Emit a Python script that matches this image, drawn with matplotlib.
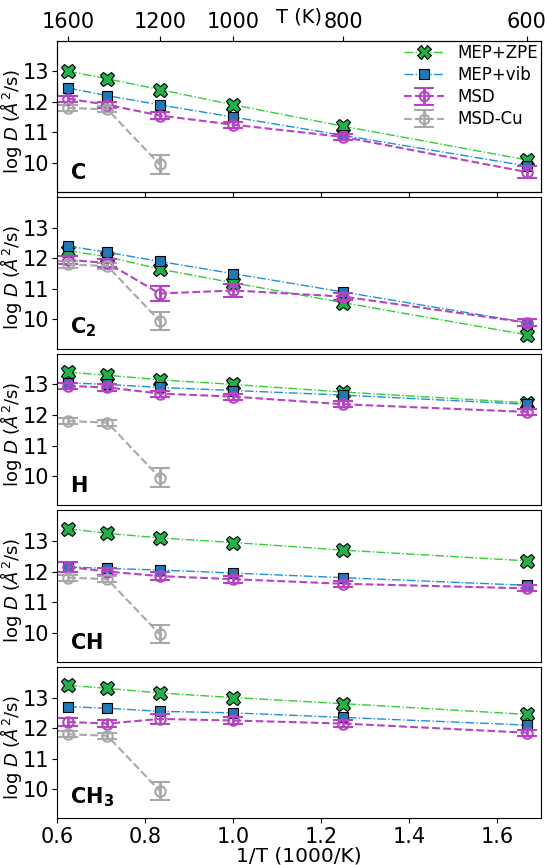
import numpy as np
import matplotlib
matplotlib.use("Agg")
import matplotlib.pyplot as plt

inv_T = [0.625, 0.714, 0.833, 1.0, 1.25, 1.667]
inv_T_cu = [0.625, 0.714, 0.833]
species = ["C", "C2", "H", "CH", "CH3"]
panel_labels = [r"$\mathbf{C}$", r"$\mathbf{C_2}$", r"$\mathbf{H}$",
                r"$\mathbf{CH}$", r"$\mathbf{CH_3}$"]

# log D values per species
mep_zpe = {
    "C":   [13.0, 12.75, 12.4, 11.9, 11.2, 10.1],
    "C2":  [12.25, 12.05, 11.65, 11.2, 10.55, 9.5],
    "H":   [13.4, 13.3, 13.15, 13.0, 12.75, 12.4],
    "CH":  [13.4, 13.25, 13.1, 12.95, 12.7, 12.35],
    "CH3": [13.4, 13.3, 13.15, 13.0, 12.8, 12.45],
}
mep_vib = {
    "C":   [12.45, 12.2, 11.9, 11.5, 10.9, 9.9],
    "C2":  [12.4, 12.2, 11.9, 11.5, 10.9, 9.9],
    "H":   [13.05, 13.0, 12.9, 12.8, 12.65, 12.35],
    "CH":  [12.15, 12.1, 12.05, 11.95, 11.8, 11.55],
    "CH3": [12.7, 12.65, 12.55, 12.5, 12.35, 12.1],
}
msd = {
    "C":   [12.1, 11.9, 11.55, 11.25, 10.85, 9.7],
    "C2":  [11.95, 11.85, 10.85, 10.95, 10.75, 9.9],
    "H":   [12.95, 12.9, 12.7, 12.6, 12.35, 12.1],
    "CH":  [12.15, 12.0, 11.85, 11.75, 11.6, 11.45],
    "CH3": [12.2, 12.15, 12.3, 12.25, 12.15, 11.85],
}
msd_err = {
    "C":   [0.1, 0.1, 0.1, 0.1, 0.1, 0.2],
    "C2":  [0.12, 0.12, 0.25, 0.2, 0.12, 0.1],
    "H":   [0.1, 0.1, 0.1, 0.1, 0.1, 0.1],
    "CH":  [0.15, 0.12, 0.12, 0.12, 0.1, 0.1],
    "CH3": [0.12, 0.12, 0.15, 0.12, 0.1, 0.1],
}
msd_cu = [11.8, 11.75, 9.95]
msd_cu_err = [0.1, 0.1, 0.3]

top_T = [1600, 1200, 1000, 800, 600]

plt.rcParams['xtick.labelsize'] = 15
plt.rcParams['ytick.labelsize'] = 15
plt.rcParams['xtick.major.pad'] = 2.5
plt.rcParams['ytick.major.pad'] = 2.5
fig, axes = plt.subplots(5, 1, figsize=(5.45, 8.65), dpi=100, sharex=True)
fig.subplots_adjust(left=0.105, right=0.993, top=0.953, bottom=0.054, hspace=0.035)

for i, (ax, sp) in enumerate(zip(axes, species)):
    ax.plot(inv_T, mep_zpe[sp], color='limegreen', ls='-.', lw=1, marker='X', ms=10.5,
            mfc='#22b04a', mec='black', mew=0.8, label='MEP+ZPE')
    ax.plot(inv_T, mep_vib[sp], color='#1f8fd6', ls='-.', lw=1, marker='s', ms=7.5,
            mfc='#1f78b8', mec='black', mew=0.8, label='MEP+vib')
    ax.errorbar(inv_T, msd[sp], yerr=msd_err[sp], color='#b444c4', ls='--', lw=1.5,
                marker='o', ms=7.5, mfc='none', mew=1.5, elinewidth=2, capsize=7,
                capthick=2, label='MSD')
    ax.errorbar(inv_T_cu, msd_cu, yerr=msd_cu_err, color='#a8a8a8', ls='--', lw=1.5,
                marker='o', ms=7.5, mfc='none', mew=1.5, elinewidth=2, capsize=7,
                capthick=2, label='MSD-Cu')
    ax.set_ylim(9.05, 14.0)
    ax.set_yticks([10, 11, 12, 13])
    ax.set_xlim(0.6, 1.7)
    ax.set_ylabel(r'log $D$ ($\AA^2$/s)', fontsize=13)
    ax.yaxis.set_label_coords(-0.068, 0.47)
    ax.text(0.027, 0.06, panel_labels[i], transform=ax.transAxes, fontsize=15,
            ha='left', va='bottom')
    if i < 4:
        ax.tick_params(axis='x', bottom=False, labelbottom=False)

axes[0].legend(loc='upper right', frameon=False, fontsize=12, handlelength=2.4,
               borderaxespad=0.05, labelspacing=0.25, markerscale=0.9,
               borderpad=0.15, handletextpad=0.8)

top = axes[0].twiny()
top.set_xlim(axes[0].get_xlim())
top.set_xticks([1000 / t for t in top_T])
top.set_xticklabels([str(t) for t in top_T])
top.set_xlabel('T (K)', fontsize=14, labelpad=-7)

axes[-1].set_xlabel('1/T (1000/K)', fontsize=14.5, labelpad=0)
axes[-1].set_xticks([0.6, 0.8, 1.0, 1.2, 1.4, 1.6])

fig.savefig('out.png', dpi=100)
